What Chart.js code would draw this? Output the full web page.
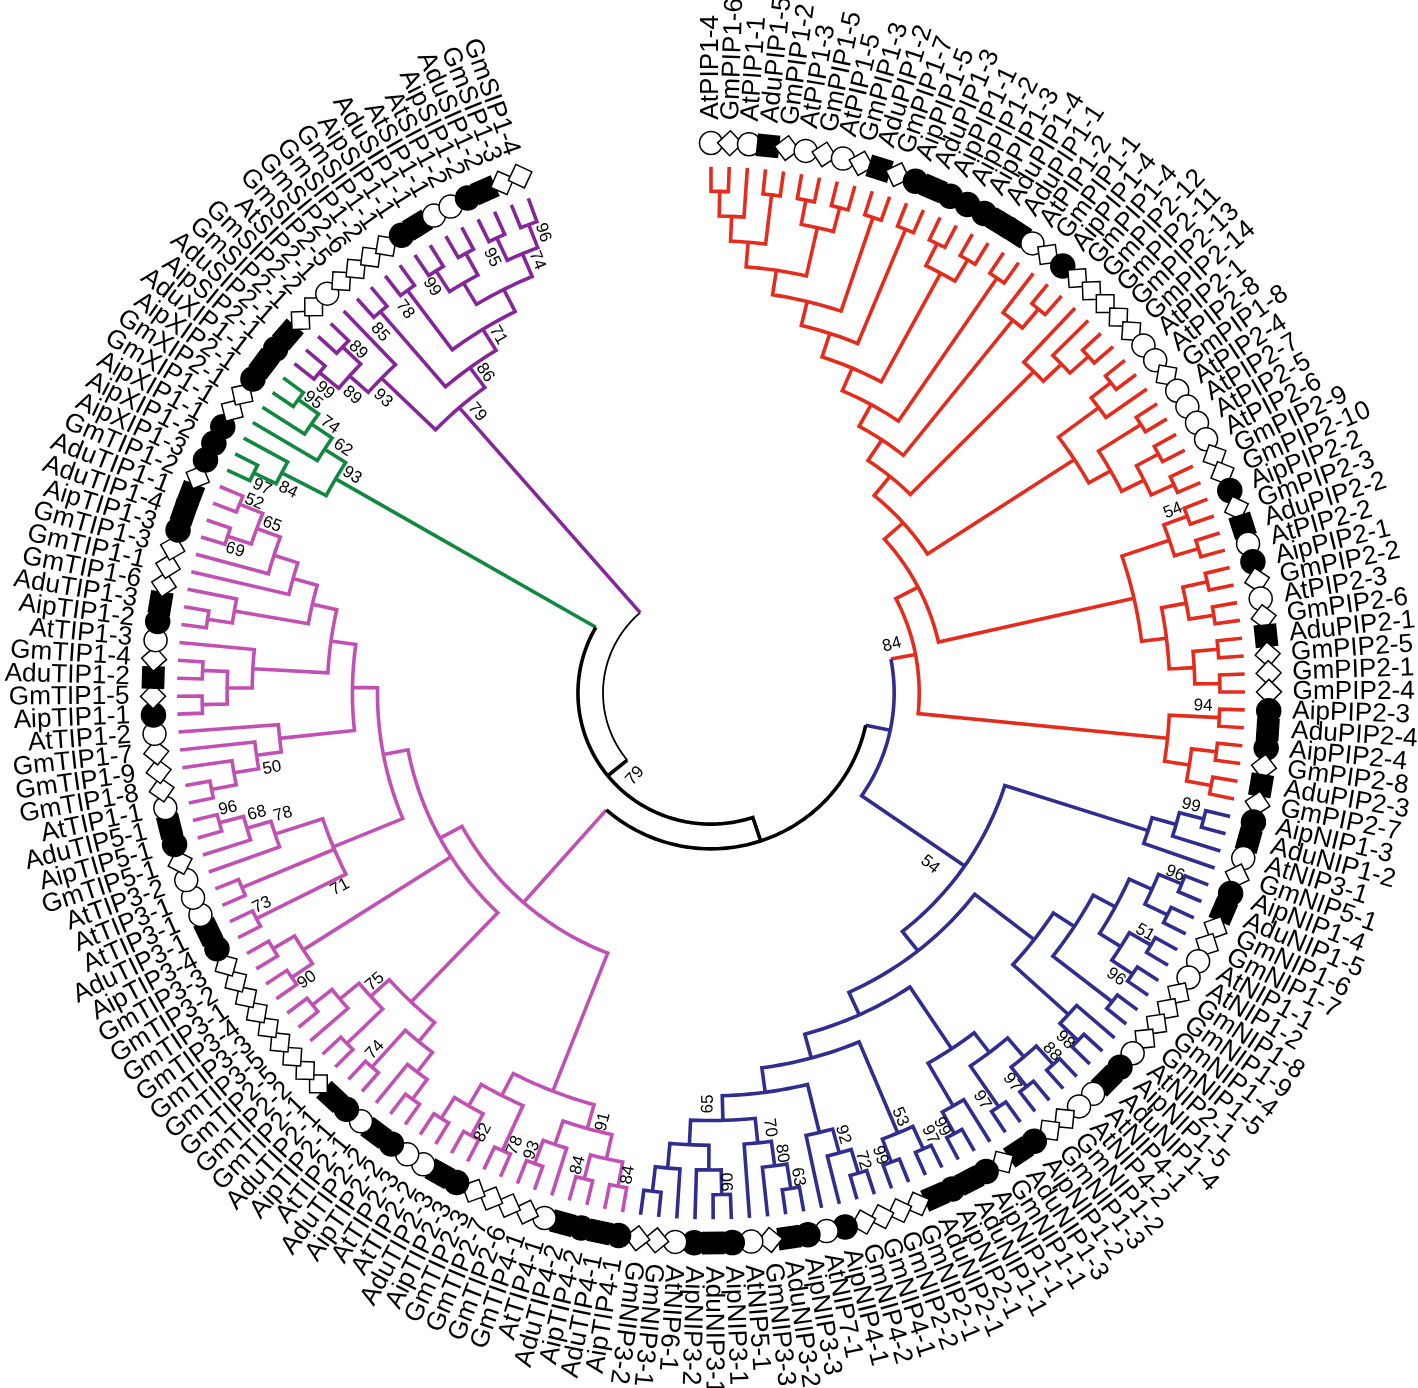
<!DOCTYPE html>
<html>
<head>
<meta charset="utf-8">
<title>Arbre MIP</title>
<script src="https://cdn.jsdelivr.net/npm/chart.js@4"></script>
<style>
  html, body { margin: 0; padding: 0; background: #fff; }
  canvas { display: block; }
</style>
</head>
<body>
<canvas id="tree" width="1418" height="1388"></canvas>
<script>
// Noms des feuilles, dans le sens horaire depuis le haut
const pipLabels = ["AtPIP1-4","GmPIP1-6","AtPIP1-1","AduPIP1-5","GmPIP1-2","AtPIP1-3","GmPIP1-5","AtPIP1-5","GmPIP1-3","AduPIP1-2",
  "GmPIP1-7","AipPIP1-5","AduPIP1-3","AipPIP1-1","AipPIP1-2","AipPIP1-3","AduPIP1-4","AduPIP1-1","AtPIP1-2","GmPIP1-1",
  "AipPIP1-4","GmPIP1-4","GmPIP2-12","GmPIP2-11","GmPIP2-13","GmPIP2-14","AtPIP2-1","AtPIP2-8","GmPIP1-8","AtPIP2-4",
  "AtPIP2-7","AtPIP2-5","AtPIP2-6","GmPIP2-9","GmPIP2-10","AipPIP2-2","GmPIP2-3","AduPIP2-2","AtPIP2-2","AipPIP2-1",
  "GmPIP2-2","AtPIP2-3","GmPIP2-6","AduPIP2-1","GmPIP2-5","GmPIP2-1","GmPIP2-4","AipPIP2-3","AduPIP2-4","AipPIP2-4",
  "GmPIP2-8","AduPIP2-3","GmPIP2-7"];
const nipLabels = ["AipNIP1-3","AduNIP1-2","AtNIP3-1","GmNIP5-1","AipNIP1-4","AduNIP1-5","GmNIP1-6","GmNIP1-7","AtNIP1-1","AtNIP1-2",
  "GmNIP1-8","GmNIP1-9","GmNIP1-4","GmNIP1-5","AtNIP2-1","AipNIP1-5","AduNIP1-4","AtNIP4-1","AtNIP4-2","GmNIP1-2",
  "GmNIP1-3","AipNIP1-2","AduNIP1-3","GmNIP1-1","AipNIP1-1","AduNIP1-1","AipNIP2-1","AduNIP2-1","GmNIP2-1","GmNIP2-2",
  "GmNIP4-1","GmNIP4-2","AipNIP4-1","AtNIP7-1","AipNIP3-3","AduNIP3-2","GmNIP3-3","AtNIP5-1","AipNIP3-1","AduNIP3-1",
  "AipNIP3-2","AtNIP6-1","GmNIP3-1","GmNIP3-2"];
const tipLabels = ["AipTIP4-1","AduTIP4-1","AipTIP4-2","AduTIP4-2","AtTIP4-1","GmTIP4-1","GmTIP2-6","GmTIP2-7","GmTIP2-3","AipTIP2-3",
  "AduTIP2-3","AtTIP2-2","AtTIP2-3","AipTIP2-2","AduTIP2-2","AtTIP2-1","AipTIP2-1","AduTIP2-1","GmTIP2-1","GmTIP2-2",
  "GmTIP2-5","GmTIP3-5","GmTIP3-3","GmTIP3-4","GmTIP3-1","GmTIP3-2","GmTIP3-3","AipTIP3-4","AduTIP3-1","AtTIP3-1",
  "AtTIP3-1","AtTIP3-2","GmTIP5-1","AipTIP5-1","AduTIP5-1","AtTIP1-1","GmTIP1-8","GmTIP1-9","GmTIP1-7","AtTIP1-2",
  "AipTIP1-1","GmTIP1-5","AduTIP1-2","GmTIP1-4","AtTIP1-3","AipTIP1-2","AduTIP1-3","GmTIP1-6","GmTIP1-1","GmTIP1-3",
  "AipTIP1-3","AduTIP1-4","AduTIP1-1","GmTIP1-2"];
const xipLabels = ["AipXIP1-3","AipXIP1-2","AipXIP1-1","GmXIP1-1","GmXIP2-1","AipXIP2-1","AduXIP1-1"];
const sipLabels = ["AipSIP2-1","AduSIP2-1","GmSIP2-1","GmSIP2-2","AtSIP2-1","GmSIP2-5","GmSIP2-6","GmSIP1-2","GmSIP1-1","AipSIP1-1",
  "AduSIP1-1","AtSIP1-1","AtSIP1-2","AipSIP1-2","AduSIP1-2","GmSIP1-3","GmSIP1-4"];
const leafLabels = [...pipLabels, ...nipLabels, ...tipLabels, ...xipLabels, ...sipLabels];

// Topologie : les nombres sont les rangs des feuilles (1 = AtPIP1-4)
const pipFirst = [[[[[1,2],3],[4,5]],[[6,7],[8,9]]],[10,11]];
const pipUpper = [[[[[pipFirst,[12,13]],[[14,15],[16,17]]],[18,19]],[20,[21,22]]],[23,[24,[25,26]]]];
const pipMiddle = [[[27,28],29],[[30,31],[[32,33],[34,35]]]];
const pipLower = [[[36,37],[38,39]],[[[40,41],[42,43]],[[44,45],[46,47]]]];
const pipLast = [[48,49],[[50,51],[52,53]]];
const nipFirst = [[[54,55],56],57];
const nipUpper = [[[[[58,59],[60,61]],[[62,63],[64,65]]],[66,67]],[68,[69,70]]];
const nipMiddle = [[[[71,72],[73,74]],[75,76]],[77,[78,79]]];
const nipLower = [[[80,81],[82,83]],[[[[84,85],86],87],[[[[88,89],90],91],[[[92,93],94],[95,[96,97]]]]]];
const tipFour = [[[[98,99],[100,101]],[102,[103,104]]],[[105,106],[[107,108],[109,110]]]];
const tipThree = [[[[111,112],113],[114,115]],[[116,117],[118,[119,120]]]];
const tipPair = [[121,122],[123,124]];
const tipFive = forced(5, [125,126], [127,128], [129,[130,[131,132]]]);
const tipOne = [[[[[133,134],135],136],137],[[[[138,139],[140,141]],142],[[[143,144],145],[146,[147,[[148,149],[150,151]]]]]]];
const xipTree = [[[152,153],154],[155,[156,[157,158]]]];
const sipTree = [[[[159,160],[161,162]],163],[[164,165],[[166,167],[[[168,169],[170,171]],[[172,173],[174,175]]]]]];

const supportValues = [84,79,54,94,54,99,96,51,96,98,88,97,97,99,97,53,99,72,92,63,80,70,90,65,91,84,84,93,78,82,74,75,90,73,71,50,96,68,78,69,65,52,97,84,93,62,74,95,99,89,93,89,85,78,99,71,86,79,95,74,96];

// Emplacement des valeurs de support, dans le repère des échelles
const supportSpots = [[181,49],[-76,-84],[219,-174],[492,-13],[462,185],[480,-114],[464,-183],[434,-243],[405,-288],[354,-352],[341,-364],[301,-395],[271,-413],[231,-440],[219,-448],[189,-430],[169,-469],[152,-474],[132,-448],[87,-491],[71,-467],[59,-441],[17,-496],[-3,-417],[-108,-435],[-83,-489],[-133,-479],[-179,-464],[-196,-459],[-228,-446],[-336,-362],[-336,-293],[-404,-291],[-449,-215],[-371,-197],[-439,-76],[-483,-117],[-454,-122],[-428,-123],[-476,145],[-439,171],[-457,194],[-449,209],[-423,206],[-359,221],[-368,249],[-381,272],[-398,297],[-386,307],[-359,302],[-328,299],[-353,348],[-331,366],[-306,389],[-279,412],[-213,363],[-226,325],[-234,285],[-219,442],[-174,439],[-168,467]];

const RED = "#e42b1c", NAVY = "#2f2d8f", PINK = "#c24fb3", GREEN = "#10893e", PURPLE = "#86249b", BLACK = "#000000";
const leafStep = 1.954;      // degrés entre deux feuilles
const tipRadius = 534;
const levelStep = 25.06;
const markerRadius = 558;
const labelRadius = 581.5;

// Noeud dont la hauteur est imposée (polytomies de l'arbre condensé)
function forced(height, ...kids) { kids.height = height; return kids; }
function clade(color, node) { node.color = color; return node; }

const redTree = clade(RED, [[[pipUpper, pipMiddle], pipLower], pipLast]);
const navyTree = clade(NAVY, [nipFirst, [nipUpper, [nipMiddle, nipLower]]]);
const pinkTree = clade(PINK, [tipFour, [tipThree, tipPair, [tipFive, tipOne]]]);
const wholeTree = clade(BLACK, [clade(PURPLE, sipTree), [clade(GREEN, xipTree), [pinkTree, clade(NAVY, [redTree, navyTree])]]]);

function layout(node, parentColor) {
  if (typeof node === "number") return { pos: node, level: 0, color: parentColor };
  const color = node.color || parentColor;
  const kids = node.map(k => layout(k, color));
  const level = node.height || Math.max(...kids.map(k => k.level)) + 1;
  return { kids, level, color, pos: (kids[0].pos + kids[kids.length - 1].pos) / 2 };
}

function toXY(pos, level) {
  const r = tipRadius - level * levelStep;
  const a = (pos - 1) * leafStep * Math.PI / 180;
  return { x: r * Math.sin(a), y: r * Math.cos(a) };
}

const buckets = {};
function addPath(color, width, points) {
  const key = color + "|" + width;
  if (!buckets[key]) buckets[key] = { color, width, data: [] };
  buckets[key].data.push(...points, { x: null, y: null });
}

function collect(node, isRoot) {
  if (!node.kids) return;
  const first = node.kids[0], last = node.kids[node.kids.length - 1];
  const arc = [];
  const steps = Math.max(2, Math.ceil(Math.abs(last.pos - first.pos) * leafStep));
  for (let i = 0; i <= steps; i++) {
    arc.push(toXY(first.pos + (last.pos - first.pos) * i / steps, node.level));
  }
  const stem = k => [toXY(k.pos, k.level), toXY(k.pos, node.level)];
  node.kids.forEach(k => {
    const atEnd = k === first || k === last;
    if (atEnd && k.color === node.color && !isRoot) return;
    addPath(k.color, 3.6, stem(k));
  });
  if (isRoot) {
    addPath(BLACK, 1.8, arc);
  } else {
    if (first.color === node.color) arc.unshift(toXY(first.pos, first.level));
    if (last.color === node.color) arc.push(toXY(last.pos, last.level));
    addPath(node.color, 3.6, arc);
  }
  node.kids.forEach(k => collect(k, false));
}
collect(layout(wholeTree, BLACK), true);

const branchDatasets = Object.values(buckets).map(b => ({
  data: b.data,
  showLine: true,
  spanGaps: false,
  borderColor: b.color,
  borderWidth: b.width,
  borderCapStyle: "butt",
  borderJoinStyle: "miter",
  borderDash: [99999, 1], // évite le tracé rapide de Chart.js qui déforme les segments
  pointRadius: 0,
  order: 2
}));

// Le préfixe donne l'espèce, donc le symbole
const markerKind = name => name.startsWith("At") ? "at" : name.startsWith("Gm") ? "gm" : name.startsWith("Aip") ? "aip" : "adu";
const kinds = leafLabels.map(markerKind);
const leafAngle = i => i * leafStep;

const markerDataset = {
  data: leafLabels.map((_, i) => {
    const a = leafAngle(i) * Math.PI / 180;
    return { x: markerRadius * Math.sin(a), y: markerRadius * Math.cos(a) };
  }),
  showLine: false,
  order: 1,
  pointStyle: ctx => ({ at: "circle", aip: "circle", gm: "rectRot", adu: "rect" })[kinds[ctx.dataIndex]],
  rotation: ctx => kinds[ctx.dataIndex] === "gm" || kinds[ctx.dataIndex] === "adu" ? leafAngle(ctx.dataIndex) : 0,
  pointRadius: ctx => ({ at: 11.5, aip: 12, gm: 12.5, adu: 15 })[kinds[ctx.dataIndex]],
  pointBackgroundColor: ctx => kinds[ctx.dataIndex] === "at" || kinds[ctx.dataIndex] === "gm" ? "#ffffff" : "#000000",
  pointBorderColor: "#000000",
  pointBorderWidth: 1.5
};

function drawRotated(ctx, text, px, py, degrees, align) {
  ctx.save();
  ctx.translate(px, py);
  ctx.rotate(degrees * Math.PI / 180);
  ctx.textAlign = align;
  ctx.textBaseline = "middle";
  ctx.fillText(text, 0, 0);
  ctx.restore();
}

const treeText = {
  id: "treeText",
  afterDatasetsDraw(chart) {
    const { ctx, scales: { x, y } } = chart;
    ctx.save();
    ctx.fillStyle = "#000";
    ctx.font = '26.2px "Liberation Sans", Arial, sans-serif';
    leafLabels.forEach((name, i) => {
      const deg = leafAngle(i), a = deg * Math.PI / 180;
      const px = x.getPixelForValue(labelRadius * Math.sin(a));
      const py = y.getPixelForValue(labelRadius * Math.cos(a));
      if (deg < 188.5) drawRotated(ctx, name, px, py, deg - 90, "left");
      else drawRotated(ctx, name, px, py, deg - 270, "right");
    });
    ctx.font = '17px "Liberation Sans", Arial, sans-serif';
    supportValues.forEach((value, i) => {
      const [sx, sy] = supportSpots[i];
      let deg = Math.atan2(sx, sy) * 180 / Math.PI;
      if (deg < 0) deg += 360;
      const turn = deg < 175 ? deg - 90 : deg - 270;
      drawRotated(ctx, String(value), x.getPixelForValue(sx), y.getPixelForValue(sy), turn, "center");
    });
    ctx.restore();
  }
};

new Chart(document.getElementById("tree").getContext("2d"), {
  type: "scatter",
  data: { datasets: [...branchDatasets, markerDataset] },
  plugins: [treeText],
  options: {
    responsive: false,
    animation: false,
    layout: { padding: 0, autoPadding: false },
    plugins: { legend: { display: false }, tooltip: { enabled: false }, title: { display: false } },
    scales: {
      x: { type: "linear", display: false, min: -711, max: 707 },
      y: { type: "linear", display: false, min: -705.08, max: 703.05 }
    }
  }
});
</script>
</body>
</html>
